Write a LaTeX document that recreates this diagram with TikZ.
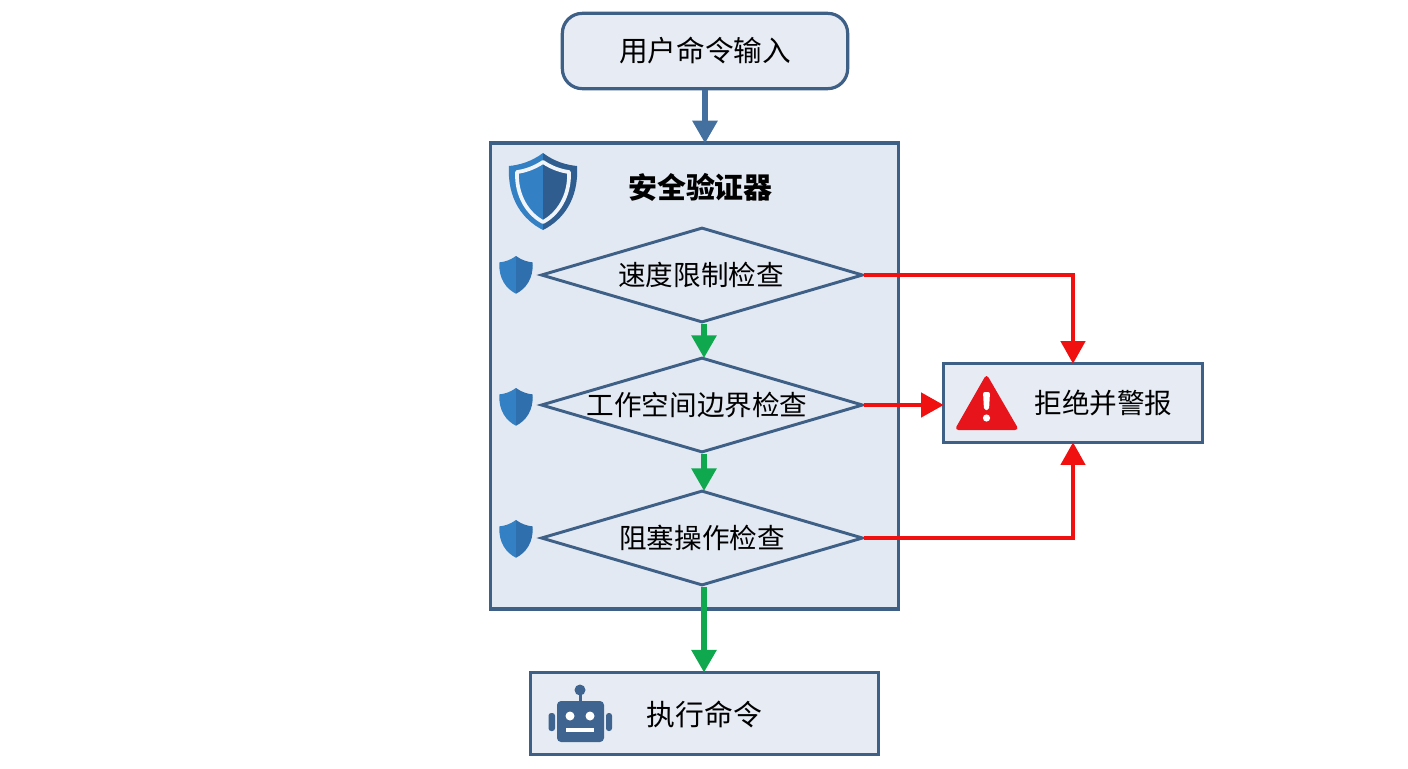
\documentclass[tikz,border=0pt]{standalone}
\usepackage{fontspec}
\setmainfont{Noto Sans CJK SC}
\usetikzlibrary{arrows.meta,shapes.geometric,calc}
\definecolor{edgeblue}{HTML}{3E5F86}
\definecolor{panelfill}{HTML}{E3E9F2}
\definecolor{boxfill}{HTML}{E7ECF4}
\definecolor{flowblue}{HTML}{44709F}
\definecolor{okgreen}{HTML}{0FA84E}
\definecolor{rejectred}{HTML}{F01010}
\definecolor{warnred}{HTML}{E8141C}
\definecolor{shieldlight}{HTML}{3380C4}
\definecolor{shielddark}{HTML}{2F5D90}
\definecolor{shieldmid}{HTML}{2F6FAE}
\definecolor{robotblue}{HTML}{3F6490}
\tikzset{
  x=0.75pt,y=-0.75pt,
  boxnode/.style={draw=edgeblue,fill=boxfill,line width=2.4pt,inner sep=0pt,font=\fontsize{21.5}{25}\selectfont},
  checknode/.style={diamond,aspect=3.39,draw=edgeblue,fill=panelfill,line width=2.2pt,inner sep=0pt,
    minimum width=241.5pt,minimum height=71.25pt,font=\fontsize{20.7}{25}\selectfont},
  flowline/.style={line width=4.2pt,shorten >=-1.5pt,-{Triangle[width=18pt,length=17pt]}},
  passline/.style={flowline,draw=okgreen,color=okgreen},
  failline/.style={line width=3.4pt,shorten >=-1.5pt,draw=rejectred,color=rejectred,line join=miter,-{Triangle[width=18pt,length=17pt]}},
}
\newcommand{\shieldpart}[4]{%
  \begin{scope}[shift={(#1,#2)},scale=#3]
    \fill[shieldlight] (0,0) .. controls (-12,9) and (-24,12) .. (-34,13)
      .. controls (-36,46) and (-20,67) .. (0,77) -- cycle;
    \fill[#4] (0,0) .. controls (12,9) and (24,12) .. (34,13)
      .. controls (36,46) and (20,67) .. (0,77) -- cycle;
  \end{scope}}
\newcommand{\shieldline}[3]{%
  \begin{scope}[shift={(#1,#2)},scale=#3]
    \draw[white!92!shieldlight,line width=2.8pt,line join=round] (0,9) .. controls (-9,15) and (-18,18) .. (-26,19)
      .. controls (-27,43) and (-15,61) .. (0,69)
      .. controls (15,61) and (27,43) .. (26,19)
      .. controls (18,18) and (9,15) .. (0,9) -- cycle;
  \end{scope}}
\begin{document}
\begin{tikzpicture}
\useasboundingbox (0,0) rectangle (1408,768);
% containers and boxes
\node[boxnode,rounded corners=15pt,minimum width=214pt,minimum height=56.5pt] (start) at (705,51) {用户命令输入};
\node[draw=edgeblue,fill=panelfill,line width=2.4pt,inner sep=0pt,minimum width=306.5pt,minimum height=349.5pt] (panel) at (694.5,376) {};
\node[font=\fontsize{21.7}{25}\selectfont\bfseries] (paneltitle) at (700.5,187) {安全验证器};
\node[checknode] (speed) at (702,275) {\makebox[0pt]{速度限制检查\hspace{1.5pt}}};
\node[checknode] (bound) at (702,405) {\makebox[0pt]{工作空间边界检查\hspace{7.5pt}}};
\node[checknode] (block) at (702,538) {\makebox[0pt]{阻塞操作检查}};
\node[boxnode,minimum width=194.5pt,minimum height=59.5pt] (reject) at (1073,403) {};
\node[font=\fontsize{20.7}{25}\selectfont] (rejecttext) at (1103.5,403) {拒绝并警报};
\node[boxnode,minimum width=261.5pt,minimum height=62pt] (exec) at (704.5,713.5) {};
\node[font=\fontsize{21.6}{25}\selectfont] (exectext) at (704.5,714) {执行命令};
% connectors
\draw[flowline,draw=flowblue,color=flowblue] (start.south) -- (start.south |- panel.north);
\draw[passline] ([xshift=1.5pt]speed.south) -- ([xshift=1.5pt]bound.north);
\draw[passline] ([xshift=1.5pt]bound.south) -- ([xshift=1.5pt]block.north);
\draw[passline] ([xshift=1.5pt]block.south) -- ([xshift=1.5pt]block.south |- exec.north);
\draw[failline] (speed.east) -| (reject.north);
\draw[failline] (bound.east) -- (bound.east -| reject.west);
\draw[failline] (block.east) -| (reject.south);
% shields
\shieldpart{543}{153}{1}{shielddark}
\shieldline{543}{153}{1}
\shieldpart{516}{256}{0.49}{shieldmid}
\shieldpart{516}{388}{0.49}{shieldmid}
\shieldpart{516}{520}{0.49}{shieldmid}
% warning sign
\fill[warnred,rounded corners=3pt] (986.5,374) -- (1019,430) -- (954.5,430) -- cycle;
\fill[white,rounded corners=1.5pt] (983,392) -- (990,392) -- (989,410) -- (984,410) -- cycle;
\fill[white] (986.5,418) circle (3.6);
% robot
\fill[robotblue] (578.5,692) rectangle (581.5,702);
\fill[robotblue] (580,690) circle (5.5);
\fill[robotblue,rounded corners=3pt] (557,701) rectangle (604,742);
\fill[robotblue,rounded corners=2pt] (548.5,713) rectangle (555,731);
\fill[robotblue,rounded corners=2pt] (606,713) rectangle (612,731);
\fill[white] (570,716) circle (4.5);
\fill[white] (590,716) circle (4.5);
\fill[white] (566,728) rectangle (594,732);
\end{tikzpicture}
\end{document}
